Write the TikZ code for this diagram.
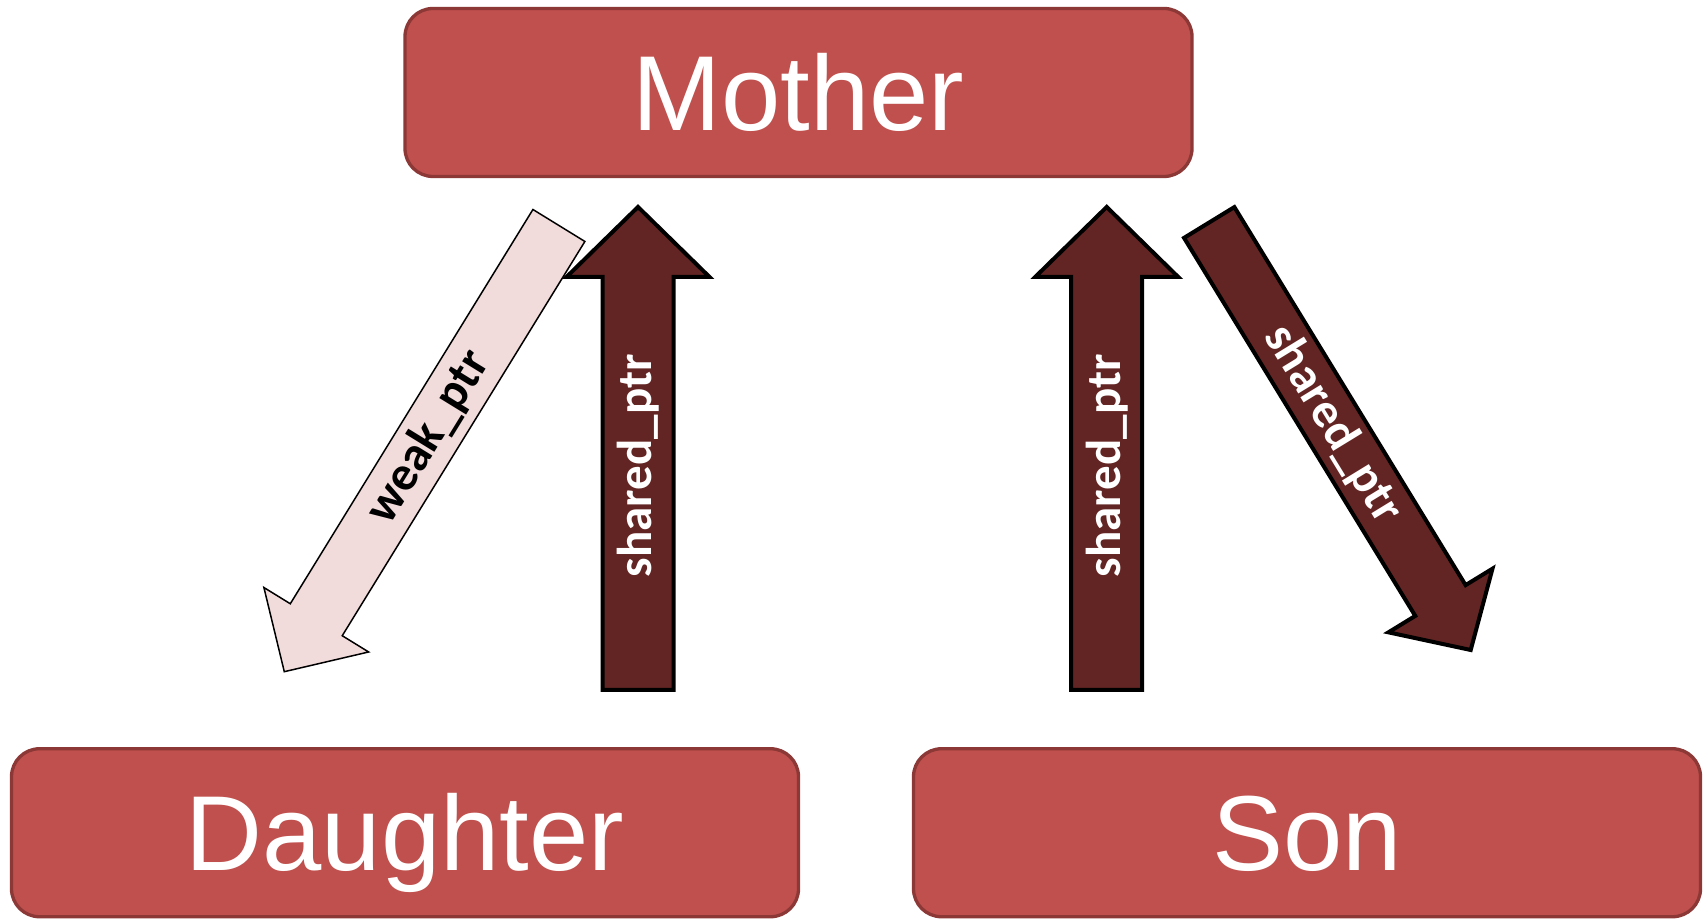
\documentclass[tikz,border=0pt]{standalone}
\usepackage{fontspec}
\setmainfont{Liberation Sans}
\newfontfamily\ptrfont{Carlito}
\usepackage{tikz}
\usetikzlibrary{calc,positioning}

\definecolor{boxred}{HTML}{C0504D}
\definecolor{boxedge}{HTML}{8C3836}
\definecolor{shareddark}{HTML}{632523}
\definecolor{weakpink}{HTML}{F2DCDB}

% block arrow: style, tail, tip, half shaft, half head, head length
\newcommand{\blockarrow}[6]{%
    \coordinate (#2_neck) at ($(#3)!#6!(#2)$);
    \path [#1] ($(#2)!#4!90:(#3)$) -- ($(#2_neck)!#4!90:(#3)$)
        -- ($(#2_neck)!#5!90:(#3)$) -- (#3) -- ($(#2_neck)!#5!-90:(#3)$)
        -- ($(#2_neck)!#4!-90:(#3)$) -- ($(#2)!#4!-90:(#3)$) -- cycle;}

\begin{document}
\begin{tikzpicture}[x=0.5pt,y=0.5pt]

    \tikzstyle{person} = [rectangle, draw=boxedge, line width=1.65pt, fill=boxred,
        rounded corners=14pt, minimum width=393.5pt, minimum height=84pt,
        text=white, font=\fontsize{53.3}{60}\selectfont, text height=38.2pt, text depth=0pt]
    \tikzstyle{shared} = [draw=black, line width=2pt, fill=shareddark]
    \tikzstyle{weak} = [draw=black, line width=0.75pt, fill=weakpink]
    \tikzstyle{shared_label} = [sloped, text=white, font=\ptrfont\bfseries\fontsize{24.5}{28}\selectfont]
    \tikzstyle{weak_label} = [sloped, text=black, font=\ptrfont\bfseries\fontsize{24.5}{28}\selectfont]

    \useasboundingbox (0,0) rectangle (1708,919);

    % Place nodes
    \node [person] at (798.5, 826.5) (mother) {Mother};
    \node [person] at (405, 86.25) (daughter) {Daughter};
    \node [person] at (1307, 86.25) (son) {Son};

    % Arrow ends
    \coordinate (md_tail) at (558.9, 693.5);
    \coordinate (md_tip) at (284.3, 247.3);
    \coordinate (dm_tail) at (638, 229);
    \coordinate (dm_tip) at (638, 712);
    \coordinate (sm_tail) at (1106.7, 229);
    \coordinate (sm_tip) at (1106.7, 712);
    \coordinate (ms_tail) at (1209.2, 696.5);
    \coordinate (ms_tip) at (1470.7, 269);

    % Draw edges
    \blockarrow{weak}{md_tail}{md_tip}{15.25pt}{30.75pt}{30.5pt}
    \blockarrow{shared}{dm_tail}{dm_tip}{17.75pt}{35.75pt}{35pt}
    \blockarrow{shared}{sm_tail}{sm_tip}{17.75pt}{35.75pt}{35pt}
    \blockarrow{shared}{ms_tail}{ms_tip}{14.75pt}{30.5pt}{29pt}

    \path (md_tail) -- (md_tip) node [weak_label, pos=0.475] {weak\_ptr};
    \path (dm_tail) -- (dm_tip) node [shared_label, pos=0.464] {shared\_ptr};
    \path (sm_tail) -- (sm_tip) node [shared_label, pos=0.464] {shared\_ptr};
    \path (ms_tail) -- (ms_tip) node [shared_label, pos=0.472] {shared\_ptr};
\end{tikzpicture}
\end{document}
